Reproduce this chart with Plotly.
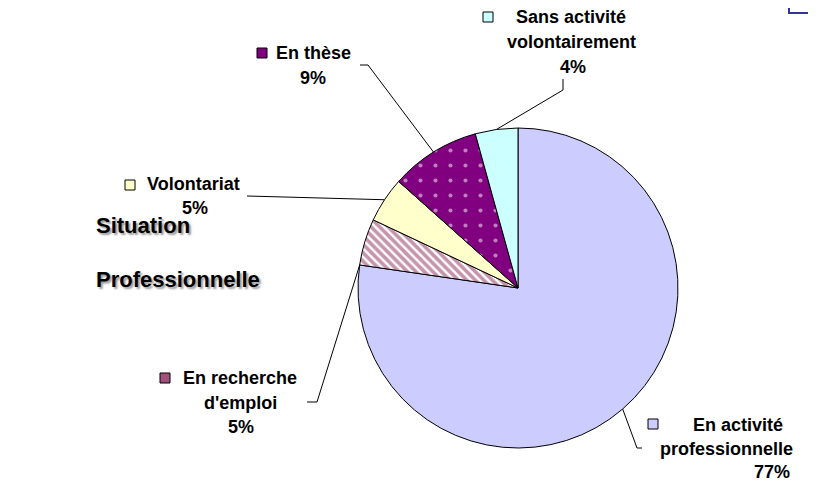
import math
import plotly.graph_objects as go

# --- data -------------------------------------------------------------------
categories = ["En activité professionnelle", "En recherche d'emploi", "Volontariat",
              "En thèse", "Sans activité volontairement"]
shares = [77.3, 4.7, 4.6, 9.1, 4.3]
label_lines = [["En activité", "professionnelle"], ["En recherche", "d'emploi"],
               ["Volontariat"], ["En thèse"], ["Sans activité", "volontairement"]]
title_lines = ["Situation", "Professionnelle"]

# --- styling ----------------------------------------------------------------
# page is 816x483 but the browser's body margin pushes the plot 8px in,
# so everything below is laid out in page pixels and shifted back
PAGE_W, PAGE_H, OFF = 816, 483, 8
W, H = PAGE_W - OFF, PAGE_H - OFF
CX, CY, R = 518, 288, 160
FONT = "Arial, Liberation Sans, sans-serif"

fills = ["#CCCCFF", "#FFFFFF", "#FFFFCC", "#800080", "#CCFFFF"]
pat_shape = ["", "\\", "", ".", ""]
pat_fg = ["#CCCCFF", "#8B2A5C", "#FFFFCC", "#FFFFFF", "#CCFFFF"]
pat_size = [8, 6, 8, 15, 8]
pat_solid = [0.2, 0.6, 0.2, 0.06, 0.2]
key_colors = ["#CCCCFF", "#A0507A", "#FFFFCC", "#800080", "#CCFFFF"]

# label layout in page pixels: key square, text line centres, leader path
label_layout = [
    dict(key=(653, 424), lines=[(738, 425), (726, 449), (772, 472)],
         leader=[(642, 448), (637, 448)], at=0.5),
    dict(key=(165, 378), lines=[(240, 378), (240, 403), (241, 427)],
         leader=[(307, 402), (317, 402)], at=0.0),
    dict(key=(130, 185), lines=[(193, 184), (195, 208)],
         leader=[(247, 196)], at=0.5),
    dict(key=(262, 53), lines=[(313, 53), (313, 78)],
         leader=[(360, 65), (368, 65)], at=0.5),
    dict(key=(488, 17), lines=[(571, 17), (571, 42), (573, 67)],
         leader=[(563, 79), (563, 90)], at=0.5),
]

fig = go.Figure()

px0, py0 = CX - R - OFF, CY - R - OFF
fig.add_trace(go.Pie(
    labels=categories, values=shares, sort=False, direction="clockwise", rotation=0,
    textinfo="none", hoverinfo="label+percent", showlegend=False,
    marker=dict(colors=fills, line=dict(color="black", width=1),
                pattern=dict(shape=pat_shape, fgcolor=pat_fg, bgcolor=fills,
                             size=pat_size, solidity=pat_solid, fillmode="overlay")),
    domain=dict(x=[px0 / W, (px0 + 2 * R) / W], y=[(H - py0 - 2 * R) / H, (H - py0) / H]),
))

total = sum(shares)
annotations = []
shapes = []
cum = 0.0
for i, v in enumerate(shares):
    lay = label_layout[i]
    frac = (cum + v * lay["at"]) / total
    cum += v
    th = 2 * math.pi * frac
    ax, ay = CX + R * math.sin(th), CY - R * math.cos(th)

    pts = lay["leader"] + [(ax, ay)]
    path = "M " + " L ".join(f"{px},{py}" for px, py in pts)
    shapes.append(dict(type="path", xref="x", yref="y", path=path,
                       line=dict(color="black", width=1)))

    texts = label_lines[i] + [f"{round(v / total * 100)}%"]
    for (tx, ty), t in zip(lay["lines"], texts):
        annotations.append(dict(x=tx, y=ty, xref="x", yref="y", text=t, showarrow=False,
                                xanchor="center", yanchor="middle",
                                font=dict(family=FONT, size=18, color="black", weight="bold")))
    kx, ky = lay["key"]
    shapes.append(dict(type="rect", xref="x", yref="y", x0=kx - 5, x1=kx + 5,
                       y0=ky - 5, y1=ky + 5, fillcolor=key_colors[i],
                       line=dict(color="black", width=1)))

for t, ty in zip(title_lines, [225, 279]):
    annotations.append(dict(x=94, y=ty, xref="x", yref="y", text=t, showarrow=False,
                            xanchor="left", yanchor="middle",
                            font=dict(family=FONT, size=22, color="black", weight="bold",
                                      shadow="2px 2px 2px #9a9a9a")))

# bit of a blue frame peeking in at the top right corner
shapes.append(dict(type="path", xref="x", yref="y", path="M 789,8 L 789,13 L 817,13",
                   line=dict(color="#333399", width=2)))

fig.update_layout(
    width=W, height=H, margin=dict(l=0, r=0, t=0, b=0),
    paper_bgcolor="white", plot_bgcolor="rgba(0,0,0,0)",
    xaxis=dict(range=[OFF, PAGE_W], visible=False, fixedrange=True),
    yaxis=dict(range=[PAGE_H, OFF], visible=False, fixedrange=True),
    annotations=annotations, shapes=shapes,
)

fig.write_html("out.html")
